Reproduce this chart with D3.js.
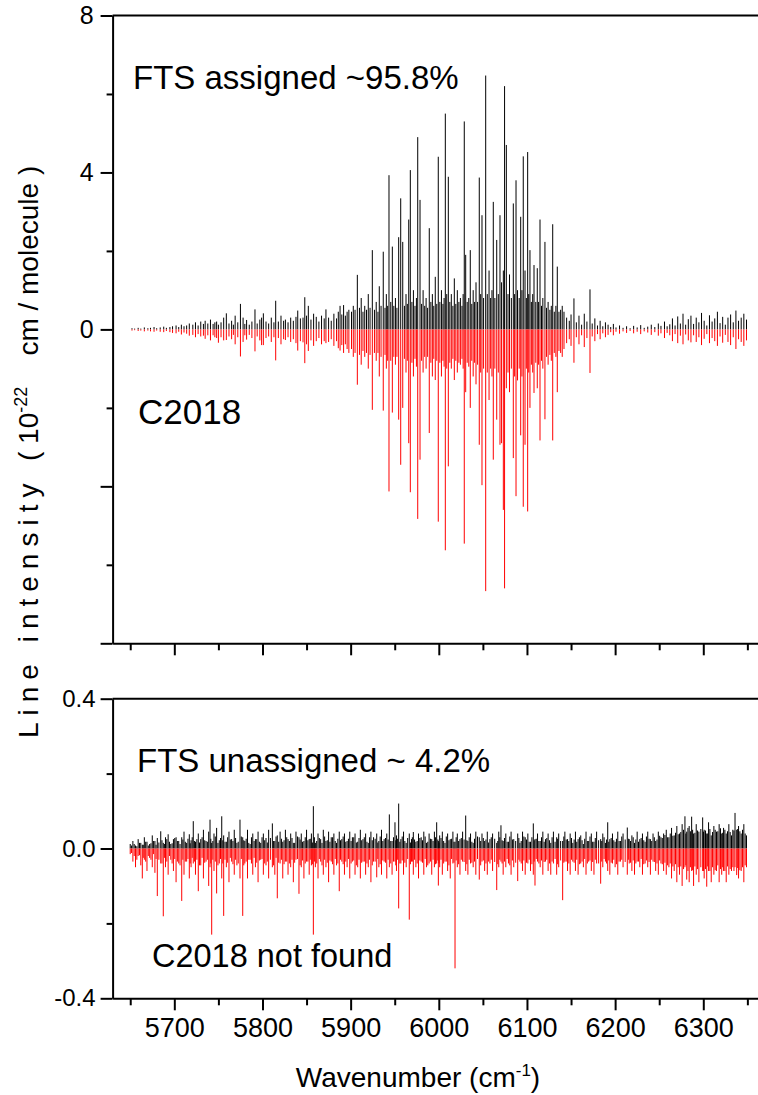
<!DOCTYPE html>
<html><head><meta charset="utf-8">
<script src="https://cdn.jsdelivr.net/npm/d3@7"></script>
<style>body{margin:0;background:#fff;overflow:hidden}</style>
</head><body><svg id="c" width="758" height="1095"></svg>
<script>
// ---- Top panel: assigned lines (wavenumber, FTS intensity, C2018 intensity drawn negative) ----
const topWn = [
5652,5655,5659,5662,5666,5670,5673,5677,5680,5684, 5688,5691,5695,5698,5702,5705,5708,5711,5714,5717,
5721,5724,5727,5730,5733,5735,5738,5741,5744,5746, 5748,5750,5753,5756,5759,5762,5765,5767,5769,5772, 5775,5778,5780,5782,5785,5788,5791.5,5794,5797,5799,
5801,5804,5807,5810,5813,5815,5818,5821,5824,5826, 5829,5832,5835,5838,5840,5843,5846,5848,5850,5852, 5855,5858,5861,5864,5867,5870,5872,5875,5878,5881, 5884,5886,5888,5890,5892,5894,5896,5898,
5901,5903,5905,5907.6,5910,5912,5914,5916,5918,5920, 5922,5924.6,5927,5929,5931,5932.5,5934.5,5937,5939,5940.5,
5942,5943.5,5945.5,5947.3,5949,5950.8,5952.5,5954.5,5956.8,5959.1, 5961,5962.8,5964.3,5965.9,5967.7,5969.5,5971.2,5973,5974.6,5976.1,
5978.7,5980.5,5982.2,5984,5985.6,5987.3,5989.2,5991,5992.7,5994.3, 5996,5997.7,5999.4,6001.2,6003,6004.7,6006,6007.4,6009,6010.8,
6012.5,6014.2,6016,6017.6,6019.3,6021,6022.8,6024.5,6026.3,6027.6, 6028.9,6030.5,6032.2,6034,6035.7,6037.4,6039,6040.6,6042.2,6044,
6045.9,6047.5,6049,6050.8,6053.2,6055,6057,6058.8,6060.3,6061.8, 6063.6,6065.7,6067.5,6069.4,6071.2,6073.2,6074.6,6076.6,6078.5,6080.2,
6082.3,6084.5,6086,6087.6,6089.3,6091.2,6092.9,6094.3,6095.8,6097.8, 6099.3,6100.8,6102,6103.4,6105,6106.5,6108,6110,6111.7,6113.2,
6114.8,6116.5,6118,6120.4,6122.2,6124,6126,6127.6,6129.2,6131, 6132.8,6134.4,6136.3,6138.2,6140,
6142,6145,6148,6150,6153.3,6156,6159,6162,6165,6168, 6171.5,6174,6177,6180,6183,6186,6189,6192,6195,6198,
6201,6205,6209,6213,6217,6221,6225,6229,6233,6237, 6241,6245,6249,6252,6256,6259,6262,6265,6268,6271,
6274,6277,6280,6283,6286,6289,6292,6295,6298,6301, 6304,6307,6310,6313,6316,6319,6322,6325,6328,6331,
6334,6337,6340,6343,6346,6349
];
const topFTS = [
.03,.02,.04,.02,.05,.03,.04,.06,.03,.05, .07,.04,.06,.08,.1,.06,.12,.08,.1,.15,
.12,.18,.1,.2,.14,.22,.15,.25,.14,.18, .2,.12,.18,.3,.41,.15,.22,.12,.35,.18, .65,.3,.14,.24,.12,.2,.51,.15,.25,.3,
.41,.2,.15,.3,.18,.73,.2,.35,.22,.25, .18,.3,.22,.32,.48,.28,.3,.82,.35,.6, .25,.4,.32,.2,.35,.28,.51,.3,.22,.4, .28,.45,.6,.38,.62,.35,.45,.5,
.45,.6,.5,1.39,.55,.8,.45,.6,.5,.9, .55,2.02,.5,.7,.45,1.1,.6,1.98,.55,.9,
.6,3.93,.7,2.11,.6,.8,.55,2.35,3.34,2.23, .6,.9,.65,2.8,4.06,.7,1.0,.6,.8,4.9,
3.3,.65,1.0,.6,.8,.55,2.58,.7,.9,.6, 1.34,.65,4.4,.7,1.0,.65,.8,5.5,.9,3.89,
.7,.9,.6,1.3,.65,1.0,.7,.8,.6,.9, 5.3,1.9,.7,.8,2.02,.65,1.0,.7,1.2,.7,
3.87,.9,2.91,.8,6.47,.9,1.5,.8,1.0,3.25, .8,2.28,.9,2.91,1.2,1.5,6.2,4.7,.9,1.4,
.8,3.21,.9,3.8,1.0,.8,2.87,1.0,4.41,1.5, .8,4.52,.9,2.02,.7,.9,1.64,.7,1.56,.7,
2.8,.6,.8,2.23,.55,.7,.5,.6,2.68,.45, .6,1.6,.45,.5,.6,
.45,.3,.22,.38,.79,.18,.35,.12,.4,.2, 1.02,.15,.28,.1,.22,.08,.18,.12,.06,.14,
.05,.1,.04,.08,.03,.09,.05,.11,.04,.07, .12,.06,.15,.09,.2,.08,.13,.28,.1,.33,
.15,.4,.12,.26,.35,.14,.3,.18,.42,.22, .1,.36,.2,.28,.45,.16,.32,.12,.3,.38,
.18,.48,.22,.3,.4,.25
];
const topC2018 = [
-.03,-.02,-.04,-.03,-.05,-.03,-.05,-.06,-.03,-.06, -.07,-.04,-.07,-.09,-.1,-.06,-.13,-.08,-.11,-.16,
-.14,-.2,-.12,-.18,-.16,-.24,-.15,-.28,-.15,-.2, -.22,-.34,-.2,-.28,-.27,-.18,-.25,-.14,-.38,-.2, -.69,-.32,-.15,-.26,-.14,-.22,-.56,-.18,-.28,-.4,
-.4,-.22,-.18,-.32,-.2,-.79,-.22,-.38,-.25,-.27, -.2,-.32,-.25,-.35,-.54,-.3,-.33,-.86,-.38,-.55, -.28,-.42,-.3,-.22,-.38,-.3,-.35,-.32,-.25,-.42, -.3,-.48,-.54,-.4,-.6,-.38,-.5,-.6,
-.5,-.7,-.6,-1.41,-.65,-.9,-.55,-.7,-.6,-1.0, -.65,-2.05,-.6,-.8,-.6,-1.2,-.7,-2.07,-.65,-1.0,
-.8,-4.13,-.8,-2.12,-.7,-.9,-.7,-2.3,-3.45,-2.0, -.75,-1.1,-.8,-2.9,-4.15,-.85,-1.2,-.75,-.95,-4.83,
-3.32,-.8,-1.1,-.7,-1.0,-.7,-2.64,-.85,-1.2,-.75, -1.29,-.8,-4.9,-.85,-1.2,-.8,-.95,-5.63,-1.0,-3.49,
-.85,-1.0,-.75,-1.29,-.8,-1.1,-.85,-.9,-.75,-1.0, -5.46,-1.6,-.85,-.95,-2.0,-.8,-1.2,-.85,-1.4,-.9,
-2.94,-1.1,-3.97,-1.0,-6.67,-1.1,-1.8,-1.0,-1.2,-3.32, -1.0,-2.3,-1.1,-2.94,-2.9,-4.6,-6.6,-1.5,-1.1,-1.6,
-1.0,-3.28,-1.2,-4.25,-1.3,-1.0,-2.7,-1.2,-4.52,-2.94, -1.0,-4.64,-1.1,-2.0,-.9,-1.1,-1.62,-.85,-1.5,-.9,
-2.83,-.8,-1.0,-2.29,-.7,-.9,-.65,-.8,-2.83,-.6, -.7,-1.6,-.55,-.6,-.7,
-.5,-.35,-.25,-.42,-.85,-.2,-.38,-.15,-.45,-.22, -1.11,-.18,-.3,-.12,-.25,-.1,-.2,-.14,-.07,-.15,
-.06,-.11,-.05,-.09,-.04,-.1,-.06,-.12,-.05,-.08, -.14,-.07,-.16,-.1,-.22,-.09,-.15,-.3,-.12,-.35,
-.16,-.38,-.13,-.28,-.33,-.15,-.32,-.2,-.4,-.24, -.12,-.35,-.22,-.3,-.42,-.18,-.34,-.14,-.32,-.4,
-.2,-.5,-.25,-.32,-.42,-.28
];

// ---- Bottom panel: FTS unassigned (positive) and C2018 not found (negative) ----
const botWn = [
5650,5653,5656,5659,5662,5663.7,5666,5669,5672,5675, 5678,5680.7,5684.6,5687.5,5690,5693,5696,5699,5702,5705,
5708.4,5711,5714,5717,5719,5721.5,5724,5727.2,5730,5733, 5736,5739,5740.5,5742.4,5745,5748,5751,5753.8,5756,5759,
5762,5765,5768,5771,5774.5,5777.6,5780,5783,5786,5789, 5792,5795,5798,5801,5804,5807,5811.2,5814,5816.8,5820,
5823,5826,5829,5832,5835,5838,5841.4,5844,5847,5850, 5853,5855.5,5857.7,5860,5863,5866,5869,5872,5875,5878,
5881,5884,5887.1,5890,5893,5896,5899,5902,5905,5908, 5911,5914,5917,5920,5923,5926,5929.6,5932,5935,5938,
5941,5943.9,5947,5950.3,5952,5954.5,5957,5960,5963,5966.5, 5969,5971.1,5974,5977,5980,5983,5986,5989,5992,5995,
5997.6,5999.5,6001,6004,6007,6010,6013,6016,6018.4,6021, 6024,6027,6030.5,6033,6036,6039,6042,6045.9,6049,6052,
6055,6058,6061,6065.7,6068,6070.5,6073,6076,6079,6082, 6085,6089.5,6092,6095,6098,6101,6104,6107.2,6109.1,6112,
6115,6118,6121,6124,6127,6130,6133.7,6136,6140.5,6143, 6146,6149,6152,6155,6158,6161,6164,6167,6170,6173,
6176,6179,6183.6,6186,6189,6191.6,6194,6197,6200,6203, 6206,6209,6213.8,6216,6219,6222,6225,6228,6231,6234,
6237,6240,6243,6246,6249,6252,6255,6258,6261,6264, 6267,6270,6273,6276,6279.2,6281.2,6284,6286.8,6289,6292,
6295,6299.3,6301,6303.9,6306,6309,6312,6315,6318,6320.9, 6323,6326,6329,6332,6336,6337.9,6340,6343,6346,6349
];
const botFTS = [
.012,.02,.008,.025,.015,.01,.03,.018,.012,.035, .02,.028,.046,.015,.03,.038,.012,.025,.03,.02,
.03,.045,.015,.038,.022,.073,.018,.04,.025,.05, .02,.045,.077,.015,.04,.055,.022,.086,.035,.018,
.045,.025,.05,.015,.077,.03,.02,.05,.012,.04, .025,.045,.015,.04,.028,.05,.067,.02,.035,.045,
.018,.05,.025,.04,.015,.045,.03,.04,.02,.05, .025,.04,.113,.015,.04,.025,.05,.02,.045,.03,
.04,.015,.045,.025,.04,.02,.045,.03,.04,.018, .05,.025,.04,.015,.045,.03,.04,.02,.05,.025,
.04,.091,.02,.07,.035,.12,.025,.045,.015,.04, .025,.044,.018,.04,.03,.045,.015,.04,.025,.045,
.07,.02,.035,.045,.015,.04,.025,.045,.018,.04, .025,.045,.088,.02,.04,.015,.045,.03,.04,.02,
.045,.025,.04,.015,.045,.062,.02,.04,.018,.045, .025,.04,.015,.045,.03,.04,.018,.067,.025,.04,
.02,.045,.025,.04,.015,.045,.03,.04,.02,.045, .025,.04,.015,.045,.025,.035,.012,.045,.02,.04,
.018,.045,.025,.04,.015,.07,.025,.04,.018,.045, .02,.04,.056,.025,.035,.015,.045,.025,.04,.018,
.045,.025,.04,.02,.045,.03,.04,.05,.03,.055, .035,.06,.04,.065,.086,.045,.06,.085,.04,.065,
.045,.083,.05,.04,.07,.035,.06,.045,.065,.04, .055,.04,.065,.035,.095,.05,.06,.04,.065,.035
];
const botC2018 = [
-.015,-.035,-.05,-.02,-.045,-.08,-.03,-.06,-.025,-.05, -.065,-.127,-.04,-.181,-.05,-.07,-.03,-.06,-.09,-.04,
-.14,-.07,-.035,-.08,-.05,-.04,-.07,-.114,-.045,-.08, -.035,-.1,-.05,-.23,-.06,-.12,-.04,-.08,-.18,-.05,
-.09,-.035,-.07,-.045,-.08,-.18,-.04,-.08,-.03,-.07, -.05,-.09,-.03,-.07,-.045,-.08,-.05,-.07,-.133,-.04,
-.08,-.035,-.07,-.05,-.09,-.03,-.121,-.05,-.08,-.035, -.07,-.045,-.23,-.05,-.08,-.035,-.07,-.05,-.09,-.035,
-.07,-.045,-.114,-.035,-.07,-.05,-.08,-.035,-.07,-.05, -.08,-.035,-.07,-.05,-.09,-.035,-.077,-.05,-.07,-.035,
-.08,-.05,-.07,-.035,-.06,-.16,-.04,-.07,-.05,-.19, -.035,-.07,-.05,-.08,-.035,-.07,-.05,-.04,-.07,-.05,
-.04,-.099,-.05,-.07,-.035,-.06,-.08,-.04,-.32,-.05, -.07,-.035,-.06,-.07,-.04,-.05,-.07,-.083,-.035,-.06,
-.07,-.04,-.06,-.111,-.05,-.035,-.07,-.05,-.04,-.07, -.05,-.087,-.035,-.06,-.07,-.04,-.06,-.07,-.099,-.035,
-.05,-.07,-.035,-.06,-.07,-.04,-.07,-.05,-.138,-.035, -.06,-.07,-.035,-.06,-.07,-.04,-.05,-.07,-.035,-.06,
-.07,-.04,-.094,-.05,-.035,-.06,-.07,-.04,-.05,-.07, -.035,-.05,-.07,-.04,-.06,-.07,-.035,-.05,-.07,-.04,
-.05,-.07,-.035,-.06,-.07,-.04,-.06,-.07,-.05,-.08, -.06,-.09,-.07,-.1,-.05,-.083,-.09,-.06,-.1,-.07,
-.09,-.06,-.08,-.102,-.06,-.09,-.07,-.06,-.09,-.07, -.06,-.09,-.07,-.06,-.05,-.071,-.08,-.06,-.09,-.05
];
// weaker bottom-panel lines lying between the ones above
const botWnWeak = [
5651.5,5654.5,5657.5,5660.5,5664.8,5667.5,5670.5,5673.5,5676.5,5679.3, 5682.5,5686,5689,5691.5,5694.5,5697.5,5700.5,5703.5,5706.5,5709.7,
5712.5,5715.5,5718,5720.3,5722.8,5725.6,5728.6,5731.5,5734.5,5737.5, 5741.4,5743.7,5746.5,5749.5,5752.4,5755,5757.5,5760.5,5763.5,5766.5,
5769.5,5772.5,5776,5778.8,5781.5,5784.5,5787.5,5790.5,5793.5,5796.5, 5799.5,5802.5,5805.5,5809,5812.6,5815.4,5818.4,5821.5,5824.5,5827.5,
5830.5,5833.5,5836.5,5839.7,5842.7,5845.5,5848.5,5851.5,5854.2,5856.6, 5858.9,5861.5,5864.5,5867.5,5870.5,5873.5,5876.5,5879.5,5882.5,5885.5,
5888.5,5891.5,5894.5,5897.5,5900.5,5903.5,5906.5,5909.5,5912.5,5915.5, 5918.5,5921.5,5924.5,5927.8,5930.8,5933.5,5936.5,5939.5,5942.5,5945.5,
5948.6,5951.2,5953.3,5955.8,5958.5,5961.5,5964.7,5967.8,5970,5972.5, 5975.5,5978.5,5981.5,5984.5,5987.5,5990.5,5993.5,5996.3,5998.9,6000.2,
6002.5,6005.5,6008.5,6011.5,6014.5,6017.2,6019.7,6022.5,6025.5,6028.7, 6031.8,6034.5,6037.5,6040.5,6043.9,6047.5,6050.5,6053.5,6056.5,6059.5,
6063.4,6066.9,6069.2,6071.8,6074.5,6077.5,6080.5,6083.5,6087.2,6090.8, 6093.5,6096.5,6099.5,6102.5,6105.6,6108.2,6110.5,6113.5,6116.5,6119.5,
6122.5,6125.5,6128.5,6131.9,6134.8,6138.2,6141.8,6144.5,6147.5,6150.5, 6153.5,6156.5,6159.5,6162.5,6165.5,6168.5,6171.5,6174.5,6177.5,6181.3,
6184.8,6187.5,6190.3,6192.8,6195.5,6198.5,6201.5,6204.5,6207.5,6211.4, 6215,6217.5,6220.5,6223.5,6226.5,6229.5,6232.5,6235.5,6238.5,6241.5,
6244.5,6247.5,6250.5,6253.5,6256.5,6259.5,6262.5,6265.5,6268.5,6271.5, 6274.5,6277.6,6280.2,6282.6,6285.4,6287.9,6290.5,6293.5,6297.2,6300.2,
6302.5,6305,6307.5,6310.5,6313.5,6316.5,6319.5,6322,6324.5,6327.5, 6330.5,6333.5,6334.8,6339,6341.5,6344.5,6347.5
];
const botFTSWeak = [
.008,.012,.006,.015,.01,.018,.008,.014,.02,.01, .016,.022,.012,.025,.018,.014,.028,.02,.012,.024,
.018,.026,.014,.03,.02,.025,.016,.03,.022,.018, .026,.02,.032,.015,.028,.022,.018,.03,.024,.02,
.028,.018,.032,.022,.026,.015,.03,.02,.025,.018, .03,.022,.016,.028,.02,.032,.018,.026,.022,.03,
.02,.028,.015,.032,.024,.018,.03,.022,.026,.016, .03,.02,.028,.015,.032,.022,.018,.03,.02,.026,
.022,.032,.018,.026,.02,.03,.016,.028,.022,.03, .018,.03,.022,.026,.016,.032,.02,.028,.024,.02,
.03,.022,.026,.018,.032,.02,.028,.016,.03,.024, .02,.028,.022,.032,.018,.026,.02,.03,.024,.016,
.028,.02,.032,.022,.026,.018,.03,.02,.028,.024, .022,.03,.018,.026,.032,.02,.028,.024,.016,.03,
.026,.02,.03,.022,.028,.018,.032,.024,.02,.028, .02,.032,.024,.018,.03,.022,.026,.02,.03,.018,
.028,.022,.03,.018,.026,.02,.032,.024,.02,.028, .024,.018,.03,.022,.026,.02,.032,.018,.028,.022,
.02,.03,.024,.018,.028,.022,.026,.02,.032,.024, .026,.02,.03,.024,.018,.028,.022,.032,.026,.02,
.03,.024,.034,.028,.036,.03,.04,.034,.042,.038, .044,.05,.04,.055,.046,.05,.042,.048,.052,.045,
.048,.04,.052,.044,.05,.046,.054,.042,.05,.046, .044,.05,.048,.052,.046,.05,.04
];
const botC2018Weak = [
-.012,-.02,-.03,-.018,-.025,-.035,-.02,-.03,-.015,-.028, -.03,-.04,-.025,-.035,-.02,-.04,-.028,-.035,-.045,-.03,
-.035,-.028,-.04,-.025,-.035,-.03,-.045,-.025,-.038,-.03, -.04,-.03,-.035,-.045,-.028,-.04,-.03,-.038,-.025,-.042,
-.03,-.04,-.028,-.045,-.035,-.03,-.04,-.025,-.038,-.032, -.028,-.04,-.035,-.03,-.045,-.025,-.038,-.03,-.042,-.035,
-.04,-.03,-.038,-.028,-.045,-.032,-.04,-.035,-.03,-.042, -.035,-.04,-.028,-.045,-.03,-.038,-.032,-.042,-.028,-.04,
-.03,-.042,-.035,-.028,-.04,-.032,-.045,-.03,-.038,-.035, -.04,-.03,-.045,-.035,-.028,-.042,-.032,-.038,-.03,-.04,
-.035,-.045,-.03,-.04,-.032,-.038,-.028,-.042,-.035,-.03, -.04,-.032,-.038,-.028,-.045,-.035,-.03,-.042,-.032,-.04,
-.03,-.04,-.035,-.045,-.028,-.038,-.032,-.042,-.03,-.036, -.042,-.03,-.038,-.035,-.028,-.045,-.032,-.04,-.035,-.03,
-.036,-.042,-.03,-.04,-.035,-.028,-.045,-.032,-.038,-.03, -.04,-.032,-.038,-.03,-.042,-.035,-.028,-.04,-.032,-.036,
-.03,-.04,-.035,-.028,-.042,-.032,-.038,-.035,-.04,-.03, -.038,-.03,-.042,-.035,-.028,-.04,-.032,-.036,-.03,-.04,
-.035,-.028,-.04,-.032,-.038,-.03,-.042,-.035,-.03,-.036, -.03,-.038,-.032,-.04,-.035,-.028,-.042,-.032,-.036,-.03,
-.036,-.04,-.032,-.042,-.038,-.045,-.04,-.048,-.042,-.05, -.048,-.055,-.045,-.06,-.05,-.058,-.048,-.055,-.05,-.06,
-.055,-.048,-.06,-.05,-.058,-.045,-.055,-.05,-.06,-.048, -.055,-.05,-.06,-.052,-.058,-.05,-.045
];

// ---- Axes ticks ----
const xMajorTicks = [5700,5800,5900,6000,6100,6200,6300];
const xMinorTicks = [5650,5750,5850,5950,6050,6150,6250,6350];
const topYMajor = [-8,-4,0,4,8];
const topYLabels = ["","","0","4","8"];
const topYMinor = [-6,-2,2,6];
const botYMajor = [-0.4,0,0.4];
const botYLabels = ["-0.4","0.0","0.4"];
const botYMinor = [-0.2,0.2];

const FONT = "'Liberation Sans', Arial, sans-serif";
const svg = d3.select("#c");
const x = d3.scaleLinear().domain([5630, 6370]).range([112.6, 765]);
const yT = d3.scaleLinear().domain([-8, 8]).range([643.3, 15.5]);
const yB = d3.scaleLinear().domain([-0.4, 0.4]).range([998.3, 698.7]);

function sticks(wn, vals, y, color) {
  const n = Math.min(wn.length, vals.length);
  svg.append("g").selectAll("line").data(d3.range(n)).enter().append("line")
    .attr("x1", i => x(wn[i])).attr("x2", i => x(wn[i]))
    .attr("y1", y(0)).attr("y2", i => y(vals[i]))
    .attr("stroke", color).attr("stroke-width", 1);
}
sticks(topWn, topFTS, yT, "#000");
sticks(topWn, topC2018, yT, "#ff0000");
sticks(botWnWeak, botFTSWeak, yB, "#000");
sticks(botWnWeak, botC2018Weak, yB, "#ff0000");
sticks(botWn, botFTS, yB, "#000");
sticks(botWn, botC2018, yB, "#ff0000");

function styleAxis(g, fs) {
  g.select(".domain").attr("stroke", "#000").attr("stroke-width", 2);
  g.selectAll(".tick line").attr("stroke", "#000").attr("stroke-width", 2);
  g.selectAll(".tick text").attr("fill", "#000").style("font-family", FONT).style("font-size", fs + "px");
}

// top panel frame
svg.append("line").attr("x1", x.range()[0]).attr("x2", 758).attr("y1", yT(8)).attr("y2", yT(8)).attr("stroke", "#000").attr("stroke-width", 2);
let g = svg.append("g").attr("transform", `translate(${x.range()[0]},0)`)
  .call(d3.axisLeft(yT).tickValues(topYMajor).tickFormat((d, i) => topYLabels[i]).tickSize(12).tickSizeOuter(0).tickPadding(7));
styleAxis(g, 25);
g = svg.append("g").attr("transform", `translate(${x.range()[0]},0)`)
  .call(d3.axisLeft(yT).tickValues(topYMinor).tickFormat("").tickSize(6).tickSizeOuter(0));
styleAxis(g, 25); g.select(".domain").remove();
g = svg.append("g").attr("transform", `translate(0,${yT(-8)})`)
  .call(d3.axisBottom(x).tickValues(xMajorTicks).tickFormat("").tickSize(12).tickSizeOuter(0));
styleAxis(g, 25);
g = svg.append("g").attr("transform", `translate(0,${yT(-8)})`)
  .call(d3.axisBottom(x).tickValues(xMinorTicks).tickFormat("").tickSize(7).tickSizeOuter(0));
styleAxis(g, 25); g.select(".domain").remove();

// bottom panel frame
svg.append("line").attr("x1", x.range()[0]).attr("x2", 758).attr("y1", yB(0.4)).attr("y2", yB(0.4)).attr("stroke", "#000").attr("stroke-width", 2);
g = svg.append("g").attr("transform", `translate(${x.range()[0]},0)`)
  .call(d3.axisLeft(yB).tickValues(botYMajor).tickFormat((d, i) => botYLabels[i]).tickSize(12).tickSizeOuter(0).tickPadding(5));
styleAxis(g, 24);
g = svg.append("g").attr("transform", `translate(${x.range()[0]},0)`)
  .call(d3.axisLeft(yB).tickValues(botYMinor).tickFormat("").tickSize(6).tickSizeOuter(0));
styleAxis(g, 24); g.select(".domain").remove();
g = svg.append("g").attr("transform", `translate(0,${yB(-0.4)})`)
  .call(d3.axisBottom(x).tickValues(xMajorTicks).tickFormat(d3.format("d")).tickSize(12).tickSizeOuter(0).tickPadding(8));
styleAxis(g, 27);
g = svg.append("g").attr("transform", `translate(0,${yB(-0.4)})`)
  .call(d3.axisBottom(x).tickValues(xMinorTicks).tickFormat("").tickSize(7).tickSizeOuter(0));
styleAxis(g, 27); g.select(".domain").remove();

// annotations
function label(txt, px, py, fs) {
  svg.append("text").attr("x", px).attr("y", py).text(txt)
    .style("font-family", FONT).style("font-size", fs + "px").attr("fill", "#000");
}
label("FTS assigned ~95.8%", 133, 89, 33);
label("C2018", 138, 424, 35);
label("FTS unassigned ~ 4.2%", 137, 772, 33);
label("C2018 not found", 152, 967, 32.5);

// x axis title
const xt = svg.append("text").attr("x", 418).attr("y", 1087).attr("text-anchor", "middle")
  .style("font-family", FONT).style("font-size", "28px").attr("fill", "#000");
xt.append("tspan").text("Wavenumber (cm");
xt.append("tspan").attr("dy", -11).style("font-size", "17px").text("-1");
xt.append("tspan").attr("dy", 11).text(")");

// y axis title
const yt = svg.append("text").attr("transform", "translate(38,738) rotate(-90)").attr("text-anchor", "start")
  .style("font-family", FONT).style("font-size", "28px").style("white-space", "pre").attr("fill", "#000");
yt.append("tspan").style("letter-spacing", "7px").text("Line intensity");
yt.append("tspan").text("  ( 10");
yt.append("tspan").attr("dy", -11).style("font-size", "18px").text("-22");
yt.append("tspan").attr("dy", 11).text("    cm / molecule )");
</script>
</body></html>
